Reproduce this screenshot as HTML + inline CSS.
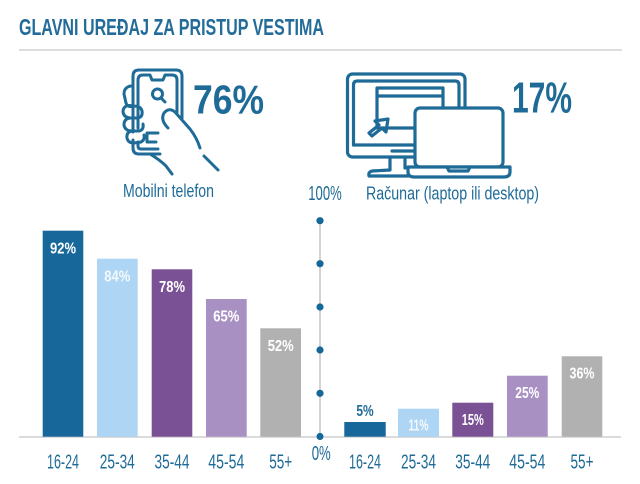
<!DOCTYPE html>
<html>
<head>
<meta charset="utf-8">
<style>
  html,body{margin:0;padding:0;background:#fff;}
  svg{display:block;}
  text{font-family:"Liberation Sans Narrow","Liberation Sans",sans-serif;}
</style>
</head>
<body>
<svg width="640" height="484" viewBox="0 0 640 484" xmlns="http://www.w3.org/2000/svg">
  <rect width="640" height="484" fill="#fff"/>
  <!-- Title -->
  <text x="19" y="35" font-size="23" font-weight="bold" fill="#236c9a" textLength="305" lengthAdjust="spacingAndGlyphs">GLAVNI UREĐAJ ZA PRISTUP VESTIMA</text>
  <line x1="19" y1="50" x2="622" y2="50" stroke="#d2d2d2" stroke-width="1.5"/>

  <!-- Phone icon -->
  <g fill="none" stroke="#1f6b98" stroke-width="3" stroke-linecap="round" stroke-linejoin="round">
    <path d="M133 132 L133 76 Q133 70 139 70 L176 70 Q182 70 182 76 L182 118"/>
    <path d="M138 128 L138 80 Q138 75 143 75 L150 75 L152 80 L163 80 L165 75 L172 75 Q177 75 177 80 L177 112"/>
    <circle cx="157.5" cy="94" r="5"/>
    <line x1="161" y1="98" x2="165" y2="102"/>
    <path d="M133 140 L133 148 Q133 154 139 154 L160 154"/>
    <path d="M138 142 L138 146 Q138 149 141 149 L158 149"/>
    <path d="M147 133 L158 133 M147 133 L147 142 L156 142"/>
    <!-- fingers -->
    <path d="M131 86 Q124 87 124 94 L126 103 Q128 108 133 106"/>
    <path d="M133 106 Q124 104 123 111 Q123 117 130 118 L138 118 Q143 117 142 111 Q141 106 133 106"/>
    <path d="M131 118 Q124 118 124 125 Q125 131 132 131 L139 131 Q144 130 143 124"/>
    <path d="M132 131 Q126 132 127 138 Q128 143 134 143 L141 142 Q145 140 144 135"/>
    <!-- thumb & hand -->
    <path d="M168 128 Q160 120 164 113 Q169 107 175 112 L190 129 Q197 138 200 148"/>
    <line x1="204" y1="156" x2="218" y2="170"/>
    <path d="M150 154 Q160 160 166 166 L172 174"/>
  </g>
  <text x="193" y="113.3" font-size="41" font-weight="bold" fill="#1f6b98" textLength="71" lengthAdjust="spacingAndGlyphs">76%</text>
  <text x="123" y="197" font-size="18" fill="#1f6b98" textLength="91" lengthAdjust="spacingAndGlyphs">Mobilni telefon</text>

  <!-- Monitor + laptop icon -->
  <g fill="none" stroke="#1f6b98" stroke-width="3.2" stroke-linecap="round" stroke-linejoin="round">
    <rect x="347.5" y="74" width="117.5" height="83" rx="5"/>
    <path d="M353.5 145 L353.5 85 Q353.5 81 357.5 81 L455 81 Q459 81 459 85 L459 108"/>
    <line x1="353.5" y1="145" x2="415" y2="145"/>
    <line x1="392" y1="151" x2="414" y2="151"/>
    <rect x="377" y="88" width="66" height="40"/>
    <line x1="377" y1="96" x2="443" y2="96"/>
    <path d="M388 119 L375 121 L379 125 L369 133 L372 136 L382 128 L386 132 Z"/>
    <path d="M390 157 L390 170 L372 171 Q368 172 369 176 L408 176"/>
    <path d="M405 157 L405 168"/>
  </g>
  <g stroke="#1f6b98" stroke-width="3.2" stroke-linejoin="round" stroke-linecap="round">
    <rect x="415" y="108" width="88" height="59" rx="5" fill="#fff"/>
    <path d="M408 167 L510 167 L510 172 Q510 177 504 177 L414 177 Q408 177 408 172 Z" fill="#fff"/>
    <path d="M447 167 L449 171 L468 171 L470 167" fill="none"/>
  </g>
  <text x="512" y="112.7" font-size="44" font-weight="bold" fill="#1f6b98" textLength="60" lengthAdjust="spacingAndGlyphs">17%</text>
  <text x="366" y="199.5" font-size="18" fill="#1f6b98" textLength="173" lengthAdjust="spacingAndGlyphs">Računar (laptop ili desktop)</text>

  <!-- Axis -->
  <text x="308.3" y="200" font-size="20.5" fill="#1f6b98" textLength="33.4" lengthAdjust="spacingAndGlyphs">100%</text>
  <text x="311.7" y="460" font-size="20.5" fill="#1f6b98" textLength="19" lengthAdjust="spacingAndGlyphs">0%</text>
  <line x1="320" y1="220.7" x2="320" y2="436.5" stroke="#d3d3d3" stroke-width="2"/>
  <g fill="#17679a">
    <circle cx="320" cy="220.7" r="3.6"/>
    <circle cx="320" cy="263.7" r="3.6"/>
    <circle cx="320" cy="307" r="3.6"/>
    <circle cx="320" cy="350" r="3.6"/>
    <circle cx="320" cy="393.3" r="3.6"/>
    <circle cx="320" cy="436.5" r="3.6"/>
  </g>

  <!-- Baselines -->
  <line x1="19" y1="437" x2="316" y2="437" stroke="#cfcfcf" stroke-width="1.5"/>
  <line x1="324" y1="437" x2="621" y2="437" stroke="#cfcfcf" stroke-width="1.5"/>

  <!-- Left bars -->
  <rect x="42.7" y="230.7" width="40.6" height="206" fill="#17679a"/>
  <rect x="97" y="258.7" width="40.7" height="178" fill="#aed5f3"/>
  <rect x="151.7" y="269.3" width="40.6" height="167.4" fill="#7b5196"/>
  <rect x="206" y="299" width="40.7" height="137.7" fill="#a890c3"/>
  <rect x="260.3" y="328.3" width="40.7" height="108.4" fill="#b1b1b1"/>

  <g font-size="16" font-weight="bold" fill="#fff" text-anchor="middle">
    <text x="63" y="253.3" textLength="26" lengthAdjust="spacingAndGlyphs">92%</text>
    <text x="117.3" y="281.5" textLength="26" lengthAdjust="spacingAndGlyphs" fill="#f4f9fd">84%</text>
    <text x="172" y="292" textLength="26" lengthAdjust="spacingAndGlyphs">78%</text>
    <text x="226.3" y="321.5" textLength="26" lengthAdjust="spacingAndGlyphs">65%</text>
    <text x="280.7" y="351" textLength="26" lengthAdjust="spacingAndGlyphs">52%</text>
  </g>

  <!-- Right bars -->
  <rect x="344.3" y="422" width="41.4" height="14.7" fill="#17679a"/>
  <rect x="398" y="408.7" width="41" height="28" fill="#aed5f3"/>
  <rect x="452.3" y="402.7" width="41" height="34" fill="#7b5196"/>
  <rect x="507" y="375.7" width="40.7" height="61" fill="#a890c3"/>
  <rect x="561.7" y="356.3" width="40.6" height="80.4" fill="#b1b1b1"/>

  <g font-size="16" font-weight="bold" text-anchor="middle">
    <text x="365" y="416" fill="#1f6b98" textLength="17.3" lengthAdjust="spacingAndGlyphs">5%</text>
    <text x="418.5" y="430.7" fill="#f4f9fd" textLength="20" lengthAdjust="spacingAndGlyphs">11%</text>
    <text x="472.8" y="425" fill="#fff" textLength="22" lengthAdjust="spacingAndGlyphs">15%</text>
    <text x="527.3" y="398" fill="#fff" textLength="24" lengthAdjust="spacingAndGlyphs">25%</text>
    <text x="582" y="378.7" fill="#fff" textLength="25" lengthAdjust="spacingAndGlyphs">36%</text>
  </g>

  <!-- X labels -->
  <g font-size="20.5" fill="#1f6b98" text-anchor="middle">
    <text x="63" y="468.3" textLength="32" lengthAdjust="spacingAndGlyphs">16-24</text>
    <text x="117.3" y="468.3" textLength="35" lengthAdjust="spacingAndGlyphs">25-34</text>
    <text x="172" y="468.3" textLength="35" lengthAdjust="spacingAndGlyphs">35-44</text>
    <text x="226.3" y="468.3" textLength="36" lengthAdjust="spacingAndGlyphs">45-54</text>
    <text x="280.7" y="468.3" textLength="23" lengthAdjust="spacingAndGlyphs">55+</text>
    <text x="365" y="468.3" textLength="32" lengthAdjust="spacingAndGlyphs">16-24</text>
    <text x="418.5" y="468.3" textLength="35" lengthAdjust="spacingAndGlyphs">25-34</text>
    <text x="472.8" y="468.3" textLength="35" lengthAdjust="spacingAndGlyphs">35-44</text>
    <text x="527.3" y="468.3" textLength="36" lengthAdjust="spacingAndGlyphs">45-54</text>
    <text x="582" y="468.3" textLength="23" lengthAdjust="spacingAndGlyphs">55+</text>
  </g>
</svg>
</body>
</html>
